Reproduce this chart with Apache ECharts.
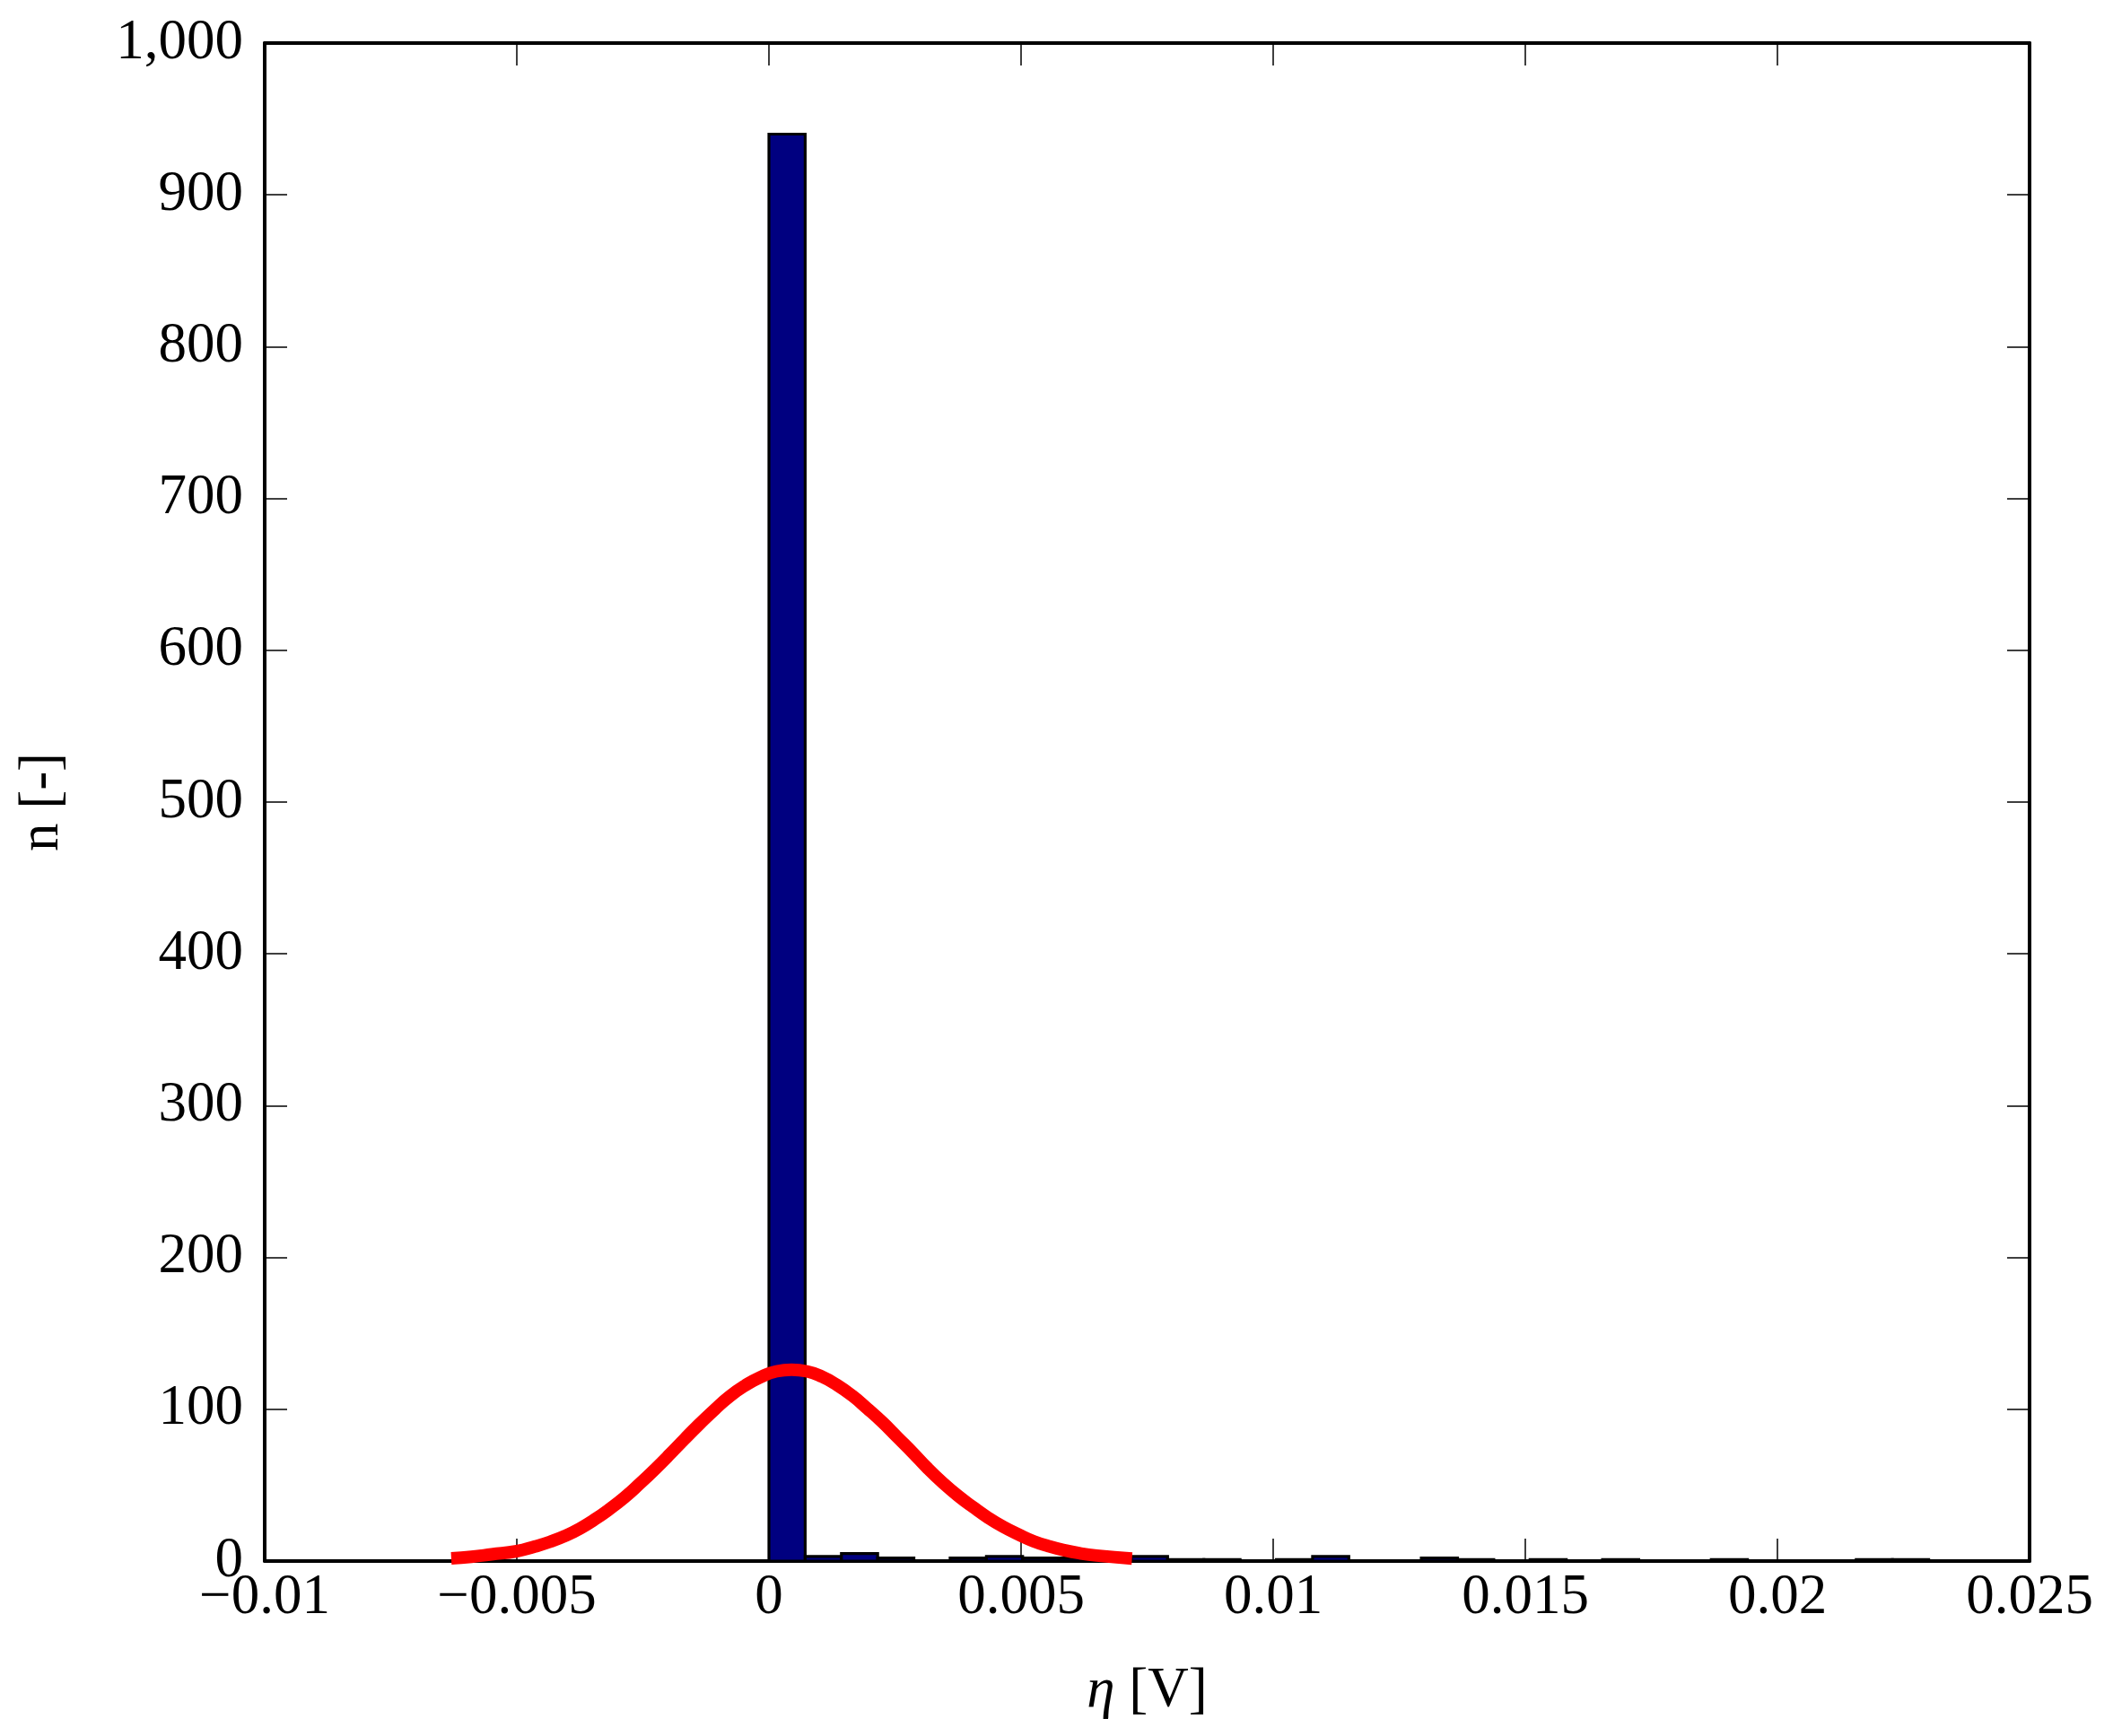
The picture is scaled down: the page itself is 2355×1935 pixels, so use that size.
<!DOCTYPE html>
<html>
<head>
<meta charset="utf-8">
<script src="https://cdn.jsdelivr.net/npm/echarts@6/dist/echarts.min.js"></script>
<style>
html,body{margin:0;padding:0;background:#fff;}
#hist{width:2355px;height:1935px;}
</style>
</head>
<body>
<div id="hist"></div>
<script>
// histogram of eta: 32 equal bins between binMin and binMax
var binMin = 0;
var binMax = 0.023;
var counts = [940, 3, 5, 2, 0, 2, 3, 2, 2, 2, 3, 1, 1, 0, 1, 3, 0, 0, 2, 1, 0, 1, 0, 1, 0, 0, 1, 0, 0, 0, 1, 1];

// fitted normal curve
var fitX = [-0.0063, -0.0059, -0.0055, -0.005, -0.00464, -0.00434, -0.00404, -0.00375, -0.00345, -0.00315,
	-0.00286, -0.00256, -0.00226, -0.00196, -0.00167, -0.00137, -0.00107, -0.00078, -0.00048, -0.00018,
	0.00015, 0.00045, 0.00075, 0.00105, 0.00135, 0.00165, 0.00195, 0.00225, 0.00255, 0.00285,
	0.00315, 0.00345, 0.00375, 0.00405, 0.00435, 0.00465, 0.00495, 0.00525, 0.00555, 0.00585,
	0.00615, 0.0065, 0.0072];
var fitY = [1.8, 2.8, 4.4, 6.5, 9.6, 12.7, 16.6, 21.4, 27.5, 34.5,
	42, 51, 60.5, 70.5, 80.5, 90.5, 100, 108.5, 115.5, 121,
	125, 126, 125, 121.5, 116, 109, 100.5, 91.5, 81.5, 71.5,
	61, 51.5, 43, 35.5, 28.5, 22.5, 17.5, 13, 9.8, 7.2,
	5.2, 3.6, 1.6];

var xTicks = {min: -0.01, max: 0.025, interval: 0.005};
var yTicks = {min: 0, max: 1000, interval: 100};

var FONT = '"Liberation Serif", "DejaVu Serif", serif';

var binW = (binMax - binMin) / counts.length;
var barData = counts.map(function (n, i) {
	return [binMin + i * binW, binMin + (i + 1) * binW, n];
});
var fitData = fitX.map(function (x, i) { return [x, fitY[i]]; });

function fmtX(v) {
	var s = String(parseFloat(v.toFixed(4)));
	return s.replace('-', '\u2212');
}
function fmtY(v) {
	return v >= 1000 ? String(v).replace(/(\d)(?=(\d{3})+$)/g, '$1,') : String(v);
}

function axisBase(t) {
	return {
		type: 'value',
		min: t.min,
		max: t.max,
		interval: t.interval,
		splitLine: {show: false},
		axisLine: {show: true, onZero: false, lineStyle: {color: '#000', width: 4}},
		axisTick: {show: true, inside: true, length: 25, lineStyle: {color: '#000', width: 1.5}}
	};
}

var xBottom = axisBase(xTicks);
xBottom.position = 'bottom';
xBottom.axisLabel = {margin: 10, color: '#000', fontFamily: FONT, fontSize: 63, formatter: fmtX};
xBottom.name = '{i|\u03b7} [V]';
xBottom.nameLocation = 'middle';
xBottom.nameGap = 114;
xBottom.nameTextStyle = {color: '#000', fontFamily: FONT, fontSize: 63,
	rich: {i: {fontStyle: 'italic', fontFamily: FONT, fontSize: 63, color: '#000'}}};

var xTop = axisBase(xTicks);
xTop.position = 'top';
xTop.axisLabel = {show: false};

var yLeft = axisBase(yTicks);
yLeft.position = 'left';
yLeft.axisLabel = {margin: 24, color: '#000', fontFamily: FONT, fontSize: 63, formatter: fmtY};
yLeft.name = 'n [-]';
yLeft.nameLocation = 'middle';
yLeft.nameGap = 216;
yLeft.nameTextStyle = {color: '#000', fontFamily: FONT, fontSize: 63};

var yRight = axisBase(yTicks);
yRight.position = 'right';
yRight.axisLabel = {show: false};

var chart = echarts.init(document.getElementById('hist'));
chart.setOption({
	animation: false,
	backgroundColor: '#fff',
	grid: {left: 295, right: 93, top: 48, bottom: 195},
	xAxis: [xBottom, xTop],
	yAxis: [yLeft, yRight],
	series: [
		{
			type: 'custom',
			xAxisIndex: 0,
			yAxisIndex: 0,
			encode: {x: [0, 1], y: 2},
			data: barData,
			renderItem: function (params, api) {
				var p0 = api.coord([api.value(0), api.value(2)]);
				var p1 = api.coord([api.value(1), 0]);
				return {
					type: 'rect',
					shape: {x: p0[0], y: p0[1], width: p1[0] - p0[0], height: p1[1] - p0[1]},
					style: {fill: '#000080', stroke: '#000', lineWidth: 3.2}
				};
			},
			z: 2
		},
		{
			type: 'line',
			xAxisIndex: 0,
			yAxisIndex: 0,
			data: fitData,
			smooth: 0.5,
			showSymbol: false,
			lineStyle: {color: '#ff0000', width: 14},
			z: 3
		}
	]
});
</script>
</body>
</html>
